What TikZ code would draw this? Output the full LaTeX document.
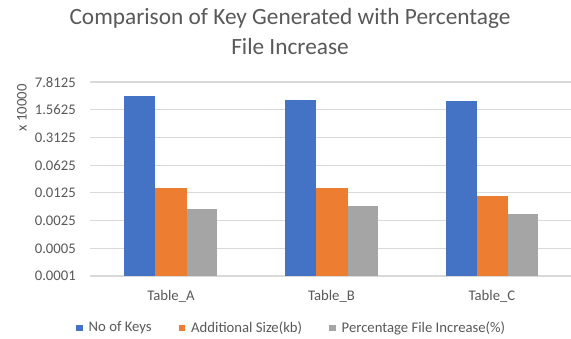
\documentclass[tikz,border=0pt]{standalone}
\usepackage{fontspec}
\setmainfont{Carlito}
\definecolor{kblue}{HTML}{4472C4}
\definecolor{korange}{HTML}{ED7D31}
\definecolor{kgray}{HTML}{A5A5A5}
\definecolor{kgrid}{HTML}{D9D9D9}
\definecolor{ktext}{HTML}{595959}
\tikzset{
  titletext/.style={text=ktext,font=\fontsize{23.3}{27}\selectfont,inner sep=0pt},
  ticktext/.style={text=ktext,font=\fontsize{14.7}{17}\selectfont,inner sep=0pt,anchor=east},
  cattext/.style={text=ktext,font=\fontsize{14.7}{17}\selectfont,inner sep=0pt},
  legtext/.style={text=ktext,font=\fontsize{14.7}{17}\selectfont,inner sep=0pt,anchor=west},
  gridline/.style={draw=kgrid,line width=1.2pt},
  barA/.style={fill=kblue,draw=none},
  barB/.style={fill=korange,draw=none},
  barC/.style={fill=kgray,draw=none}
}
\begin{document}
\begin{tikzpicture}[x=1pt,y=-1pt]
\useasboundingbox[fill=white] (0,0) rectangle (571,339);
% title
\node[titletext] (t1) at (290,18) {Comparison of Key Generated with Percentage};
\node[titletext] (t2) at (290,46) {File Increase};
% grid and ticks
\foreach \i/\lab in {0/0.0001,1/0.0005,2/0.0025,3/0.0125,4/0.0625,5/0.3125,6/1.5625,7/7.8125}{
  \draw[gridline] (90,{276-\i*27.7}) -- (571,{276-\i*27.7});
  \node[ticktext] (tick\i) at (76,{276-\i*27.7}) {\lab};
}
\node[ticktext,anchor=center,rotate=90] (unit) at (22,108) {x 10000};
% bars Table_A
\fill[barA] (124.3,276) rectangle (155.3,96);
\fill[barB] (155.3,276) rectangle (186.7,188.3);
\fill[barC] (186.7,276) rectangle (217,209.3);
% bars Table_B
\fill[barA] (285,276) rectangle (316,100.3);
\fill[barB] (316,276) rectangle (347.7,188.3);
\fill[barC] (347.7,276) rectangle (377.7,205.7);
% bars Table_C
\fill[barA] (445.7,276) rectangle (477,101.3);
\fill[barB] (477,276) rectangle (508.3,195.7);
\fill[barC] (508.3,276) rectangle (538.3,214.3);
% categories
\node[cattext] (ca) at (171,296) {Table\_A};
\node[cattext] (cb) at (331.5,296) {Table\_B};
\node[cattext] (cc) at (492,296) {Table\_C};
% legend
\fill[kblue] (76,325) rectangle (82.5,331.5);
\node[legtext] (l1) at (88.5,328) {No of Keys};
\fill[korange] (178.5,325) rectangle (185,331.5);
\node[legtext] (l2) at (191,328) {Additional Size(kb)};
\fill[kgray] (329,325) rectangle (335.5,331.5);
\node[legtext] (l3) at (341.5,328) {Percentage File Increase(\%)};
\end{tikzpicture}
\end{document}
